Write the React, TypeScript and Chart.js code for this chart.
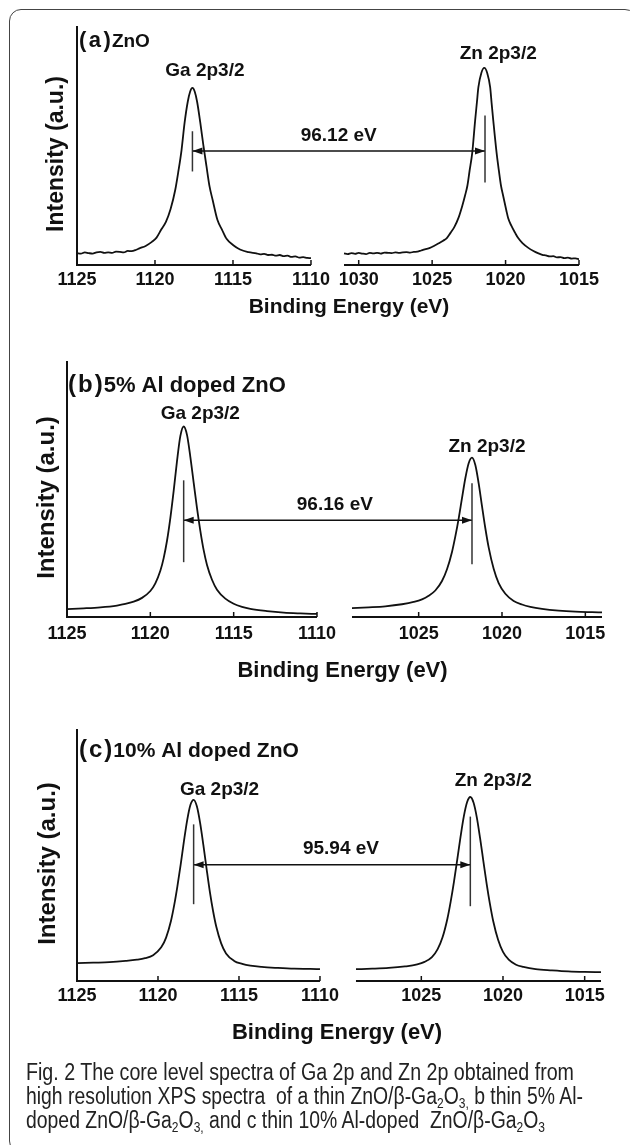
import React, { useEffect, useLayoutEffect, useRef } from "react";
import { Chart, registerables } from "chart.js";

Chart.register(...registerables);

const FONT = '"Liberation Sans", Arial, Helvetica, sans-serif';
Chart.defaults.font.family = FONT;

// ---------------- (a) ZnO ----------------
const A_GA_E = [
  1125.0, 1124.75, 1124.5, 1124.25, 1124.0, 1123.75, 1123.5, 1123.25, 1123.0, 1122.75, 1122.5, 1122.25, 1122.0, 1121.75, 1121.5,
  1121.2, 1121.0, 1120.6, 1120.2, 1119.9, 1119.6, 1119.3, 1119.0, 1118.7, 1118.5, 1118.3, 1118.1, 1117.9, 1117.75, 1117.6,
  1117.45, 1117.3, 1117.1, 1116.9, 1116.7, 1116.5, 1116.3, 1116.0, 1115.7, 1115.4, 1115.0, 1114.55, 1114.0, 1113.5,
  1113.25, 1113.0, 1112.75, 1112.5, 1112.25, 1112.0, 1111.75, 1111.5, 1111.25, 1111.0, 1110.75, 1110.5, 1110.25, 1110.0,
];
const A_GA_I = [
  5.0, 4.8, 5.3, 5.0, 4.8, 5.3, 5.5, 5.1, 5.3, 5.1, 5.6, 5.5, 5.3, 5.9, 5.8,
  6.4, 7.0, 8.0, 9.7, 11.5, 14.9, 18.1, 23.5, 31.6, 39.4, 48.2, 59.9, 68.6, 72.8, 74.4,
  72.8, 68.6, 60.0, 50.4, 41.5, 32.9, 27.2, 19.0, 14.8, 10.9, 8.4, 6.5, 5.4, 4.9,
  4.5, 4.7, 4.2, 4.3, 3.9, 4.2, 3.7, 3.9, 3.4, 3.6, 3.1, 3.3, 3.0, 2.9,
];
const A_ZN_E = [
  1031.0, 1030.75, 1030.5, 1030.25, 1030.0, 1029.75, 1029.5, 1029.25, 1029.0, 1028.75, 1028.5, 1028.25, 1028.0,
  1027.75, 1027.5, 1027.25, 1027.0, 1026.75, 1026.5, 1026.25, 1026.0,
  1025.75, 1025.5, 1025.15, 1024.85, 1024.55, 1024.25, 1024.0, 1023.75, 1023.5, 1023.2, 1022.95, 1022.75, 1022.6,
  1022.45, 1022.27, 1022.07, 1021.95, 1021.85, 1021.65, 1021.45,
  1021.25, 1021.05, 1020.95, 1020.84, 1020.61, 1020.45, 1020.31, 1020.15, 1019.95, 1019.82, 1019.6, 1019.35, 1019.14,
  1018.85, 1018.45, 1018.1, 1017.8, 1017.5,
  1017.25, 1017.0, 1016.75, 1016.5, 1016.25, 1016.0, 1015.75, 1015.5, 1015.25, 1015.0,
];
const A_ZN_I = [
  4.9, 4.6, 5.0, 4.7, 5.1, 4.8, 4.6, 5.1, 4.9, 5.1, 4.8, 5.2, 5.1,
  5.0, 5.3, 5.1, 5.3, 5.4, 5.2, 5.5, 5.6,
  6.1, 6.6, 7.2, 8.1, 9.1, 10.2, 11.3, 13.5, 15.8, 19.9, 24.8, 29.4, 33.3,
  39.6, 47.1, 60.9, 68.4, 74.7, 80.7, 82.8,
  80.7, 74.7, 68.0, 60.9, 47.1, 39.4, 33.3, 28.7, 23.0, 19.6, 16.4, 13.5, 11.3,
  9.2, 7.2, 5.9, 5.0, 4.3,
  4.0, 3.6, 3.7, 3.2, 3.3, 2.9, 3.1, 2.7, 2.8, 2.5,
];

// ---------------- (b) 5% Al doped ZnO ----------------
const B_GA_E = [
  1125, 1124, 1123, 1122, 1121.5, 1121, 1120.5, 1120, 1119.7, 1119.4,
  1119.2, 1119.0, 1118.8, 1118.6, 1118.4, 1118.2, 1118.0,
  1117.8, 1117.6, 1117.4, 1117.2, 1117.0, 1116.8, 1116.6, 1116.3, 1116.0,
  1115.5, 1115.0, 1114.5, 1114, 1113, 1112, 1111, 1110,
];
const B_GA_I = [
  3.1, 3.4, 3.8, 4.5, 5.1, 6.0, 7.5, 10.2, 13.2, 18.1,
  23.1, 29.9, 38.8, 49.5, 61.1, 70.9, 74.7,
  71.4, 62.8, 52.7, 42.7, 33.8, 26.2, 20.4, 14.6, 10.7,
  7.2, 5.2, 4.0, 3.2, 2.3, 1.7, 1.4, 1.2,
];
const B_ZN_E = [
  1029, 1028, 1027, 1026, 1025.3, 1024.8, 1024.4, 1024.0, 1023.6, 1023.3, 1023.0, 1022.8, 1022.6, 1022.4, 1022.2, 1022.0, 1021.8,
  1021.6, 1021.4, 1021.2, 1021.0, 1020.8, 1020.5, 1020.2, 1019.8, 1019.3, 1018.8, 1018.3, 1017.6, 1016.6, 1015.6, 1014.6, 1014.0,
];
const B_ZN_I = [
  3.5, 3.8, 4.2, 5.0, 5.9, 6.9, 8.3, 10.4, 14.1, 18.7, 25.5, 31.6, 38.6, 46.6, 54.4, 60.3, 62.5,
  59.6, 52.4, 43.5, 34.8, 27.3, 18.9, 13.3, 9.1, 6.3, 4.9, 4.0, 3.2, 2.5, 2.1, 1.9, 1.8,
];

// ---------------- (c) 10% Al doped ZnO ----------------
const C_GA_E = [
  1125, 1124, 1123, 1122, 1121.3, 1120.8, 1120.3, 1119.8, 1119.5, 1119.2, 1119.0, 1118.8, 1118.6, 1118.4, 1118.2, 1118.0, 1117.8,
  1117.6, 1117.4, 1117.2, 1117.0, 1116.8, 1116.6, 1116.4, 1116.1, 1115.8, 1115.3, 1114.8, 1114.3, 1113.6, 1112.6, 1111.6, 1110.6, 1110.0,
];
const C_GA_I = [
  7.1, 7.3, 7.5, 8.0, 8.5, 9.1, 10.3, 13.4, 17.3, 23.9, 30.2, 37.8, 46.4, 55.6, 64.0, 70.1, 72.2,
  69.6, 63.0, 54.2, 44.7, 35.6, 27.9, 21.6, 15.0, 11.0, 8.0, 6.8, 6.1, 5.6, 5.2, 4.9, 4.8, 4.7,
];
const C_ZN_E = [
  1029, 1028, 1027, 1026, 1025.25, 1024.8, 1024.35, 1024.0, 1023.7, 1023.4, 1023.2, 1023.0, 1022.8, 1022.6, 1022.4, 1022.2, 1022.0,
  1021.8, 1021.6, 1021.4, 1021.2, 1021.0, 1020.8, 1020.6, 1020.3, 1020.0, 1019.65, 1019.2, 1018.75, 1018.0, 1017, 1016, 1015, 1014,
];
const C_ZN_I = [
  4.7, 4.9, 5.2, 5.8, 6.6, 7.6, 9.5, 12.7, 17.4, 24.9, 31.7, 39.6, 48.4, 57.4, 65.5, 71.2, 73.3,
  71.0, 65.1, 56.8, 47.7, 38.7, 30.7, 23.9, 16.4, 11.6, 8.5, 6.5, 5.6, 4.7, 4.2, 3.8, 3.6, 3.5,
];

// ---------------- annotations (per panel a, b, c) ----------------
const PANEL_PREFIX = ["(a)", "(b)", "(c)"];
const PANEL_NAME = ["ZnO", "5% Al doped ZnO", "10% Al doped ZnO"];
const PEAK_NAMES = ["Ga 2p3/2", "Zn 2p3/2"];
const GA_MARK_E = [1117.6, 1118.0, 1117.8];
const ZN_MARK_E = [1021.4, 1021.8, 1022.0];
const GA_MARK_I = [[39.3, 56.2], [21.5, 53.6], [30.6, 62.4]];
const ZN_MARK_I = [[34.7, 62.8], [20.7, 52.5], [29.8, 65.5]];
const ARROW_I = [47.9, 37.9, 46.3];
const SPLIT_TEXT = ["96.12 eV", "96.16 eV", "95.94 eV"];
const SPLIT_TEXT_I = [52.1, 42.1, 50.6];
const GA_TEXT_E = [1116.8, 1117.0, 1116.2];
const GA_TEXT_I = [79.3, 77.8, 74.1];
const ZN_TEXT_E = [1020.5, 1020.9, 1020.6];
const ZN_TEXT_I = [86.4, 64.8, 77.6];
const GA_RANGE = [1125, 1110];
const ZN_RANGE = [[1031, 1015], [1029, 1014], [1029, 1014]];
const TICKS_A = [1125, 1120, 1115, 1110, 1030, 1025, 1020, 1015];
const TICKS_BC = [1125, 1120, 1115, 1110, 1025, 1020, 1015];
const X_TITLE = "Binding Energy (eV)";
const Y_TITLE = "Intensity (a.u.)";

const DATA = [
  { gaE: A_GA_E, gaI: A_GA_I, znE: A_ZN_E, znI: A_ZN_I, ticks: TICKS_A },
  { gaE: B_GA_E, gaI: B_GA_I, znE: B_ZN_E, znI: B_ZN_I, ticks: TICKS_BC },
  { gaE: C_GA_E, gaI: C_GA_I, znE: C_ZN_E, znI: C_ZN_I, ticks: TICKS_BC },
];

// ---------------- layout ----------------
const LAYOUT = [
  { top: 0, height: 330, pad: { left: 77, right: 51, top: 27, bottom: 35.4 }, tickPad: 4, leftFrac: 0.4661, rightStart: 0.5319,
    xTitle: { dx: 21, dy: 48, size: 21 }, yTitle: { x: 57, dy: 8, size: 23 }, tag: { dx: 2, dy: 20, big: 22, small: 19, sp: 2.5 }, splitDx: 0 },
  { top: 330, height: 370, pad: { left: 67, right: 28, top: 32, bottom: 49.4 }, tickPad: 6, leftFrac: 0.4673, rightStart: 0.5327,
    xTitle: { dx: 8, dy: 60, size: 22 }, yTitle: { x: 47, dy: 8, size: 24 }, tag: { dx: 1, dy: 30, big: 24, small: 22, sp: 2 }, splitDx: 7 },
  { top: 700, height: 360, pad: { left: 77, right: 29, top: 30, bottom: 49.4 }, tickPad: 4, leftFrac: 0.4637, rightStart: 0.5324,
    xTitle: { dx: -2, dy: 58, size: 22 }, yTitle: { x: 48, dy: 8, size: 24 }, tag: { dx: 2, dy: 27, big: 24, small: 21, sp: 2 }, splitDx: 9 },
];

const INK = "#111";

function Panel({ idx }: { idx: number }) {
  const ref = useRef<HTMLCanvasElement>(null);
  useEffect(() => {
    const L = LAYOUT[idx];
    const D = DATA[idx];
    const znR = ZN_RANGE[idx];
    // broken-axis mapping: energy -> axis fraction
    const map = (e: number) =>
      e >= 1100
        ? (L.leftFrac * (GA_RANGE[0] - e)) / (GA_RANGE[0] - GA_RANGE[1])
        : L.rightStart + ((1 - L.rightStart) * (znR[0] - e)) / (znR[0] - znR[1]);
    const pts = (E: number[], I: number[]) => E.map((e, i) => ({ x: map(e), y: I[i] }));
    const curve = (data: any) => ({
      data, borderColor: INK, borderWidth: 1.8, pointRadius: 0, fill: false, cubicInterpolationMode: "monotone",
    });
    const seg = (data: any, w: number, c: string) => ({ data, borderColor: c, borderWidth: w, pointRadius: 0, fill: false, tension: 0 });

    const datasets: any[] = [
      curve(pts(D.gaE, D.gaI)),
      curve(pts(D.znE, D.znI)),
      seg([{ x: map(GA_MARK_E[idx]), y: GA_MARK_I[idx][0] }, { x: map(GA_MARK_E[idx]), y: GA_MARK_I[idx][1] }], 1.5, "#333"),
      seg([{ x: map(ZN_MARK_E[idx]), y: ZN_MARK_I[idx][0] }, { x: map(ZN_MARK_E[idx]), y: ZN_MARK_I[idx][1] }], 1.5, "#333"),
      seg([{ x: map(GA_MARK_E[idx]), y: ARROW_I[idx] }, { x: map(ZN_MARK_E[idx]), y: ARROW_I[idx] }], 1.5, INK),
    ];

    const plugin = {
      id: "xpsDecor" + idx,
      afterDraw(chart: any) {
        const ctx = chart.ctx;
        const xs = chart.scales.x;
        const ys = chart.scales.y;
        const ca = chart.chartArea;
        const px = (e: number) => xs.getPixelForValue(map(e));
        ctx.save();
        // broken x axis line
        ctx.strokeStyle = INK;
        ctx.lineWidth = 2;
        [GA_RANGE, znR].forEach((r, k) => {
          ctx.beginPath();
          ctx.moveTo(px(r[0]) - (k === 0 ? 1 : 0), ca.bottom);
          ctx.lineTo(px(r[1]), ca.bottom);
          ctx.stroke();
        });
        // inward tick marks
        ctx.lineWidth = 1.5;
        D.ticks.forEach((t) => {
          const x = px(t);
          ctx.beginPath();
          ctx.moveTo(x, ca.bottom);
          ctx.lineTo(x, ca.bottom - 5);
          ctx.stroke();
        });
        // arrow heads
        const ay = ys.getPixelForValue(ARROW_I[idx]);
        const xl = px(GA_MARK_E[idx]);
        const xr = px(ZN_MARK_E[idx]);
        ctx.fillStyle = INK;
        ctx.beginPath();
        ctx.moveTo(xl, ay); ctx.lineTo(xl + 10, ay - 3.5); ctx.lineTo(xl + 10, ay + 3.5); ctx.closePath(); ctx.fill();
        ctx.beginPath();
        ctx.moveTo(xr, ay); ctx.lineTo(xr - 10, ay - 3.5); ctx.lineTo(xr - 10, ay + 3.5); ctx.closePath(); ctx.fill();
        // texts
        ctx.textBaseline = "alphabetic";
        ctx.textAlign = "center";
        ctx.font = `bold 19px ${FONT}`;
        ctx.fillText(PEAK_NAMES[0], px(GA_TEXT_E[idx]), ys.getPixelForValue(GA_TEXT_I[idx]));
        ctx.fillText(PEAK_NAMES[1], px(ZN_TEXT_E[idx]), ys.getPixelForValue(ZN_TEXT_I[idx]));
        ctx.fillText(SPLIT_TEXT[idx], (xl + xr) / 2 + L.splitDx, ys.getPixelForValue(SPLIT_TEXT_I[idx]));
        // x title
        ctx.font = `bold ${L.xTitle.size}px ${FONT}`;
        ctx.fillText(X_TITLE, (ca.left + ca.right) / 2 + L.xTitle.dx, ca.bottom + L.xTitle.dy);
        // panel tag
        ctx.textAlign = "left";
        ctx.font = `bold ${L.tag.big}px ${FONT}`;
        const tx = ca.left + L.tag.dx;
        const ty = ca.top + L.tag.dy;
        let cx = tx;
        for (const ch of PANEL_PREFIX[idx]) {
          ctx.fillText(ch, cx, ty);
          cx += ctx.measureText(ch).width + L.tag.sp;
        }
        ctx.font = `bold ${L.tag.small}px ${FONT}`;
        ctx.fillText(PANEL_NAME[idx], cx - L.tag.sp + 1, ty);
        // y title
        ctx.translate(L.yTitle.x, (ca.top + ca.bottom) / 2 + L.yTitle.dy);
        ctx.rotate(-Math.PI / 2);
        ctx.textAlign = "center";
        ctx.textBaseline = "middle";
        ctx.font = `bold ${L.yTitle.size}px ${FONT}`;
        ctx.fillText(Y_TITLE, 0, 0);
        ctx.restore();
      },
    };

    const chart = new Chart(ref.current as HTMLCanvasElement, {
      type: "line",
      data: { datasets },
      options: {
        animation: false,
        responsive: false,
        maintainAspectRatio: false,
        devicePixelRatio: 1,
        events: [],
        layout: { padding: L.pad },
        plugins: { legend: { display: false }, tooltip: { enabled: false } },
        scales: {
          x: {
            type: "linear",
            min: 0,
            max: 1,
            grid: { display: false, drawTicks: false, tickLength: 0 },
            border: { display: false },
            afterBuildTicks: (s: any) => {
              s.ticks = D.ticks.map((t) => ({ value: map(t) }));
            },
            ticks: {
              autoSkip: false,
              maxRotation: 0,
              padding: L.tickPad,
              color: INK,
              font: { family: FONT, size: 18, weight: "bold" },
              callback: (_v: any, i: number) => String(D.ticks[i]),
            },
          },
          y: {
            type: "linear",
            min: 0,
            max: 100,
            grid: { display: false, drawTicks: false, tickLength: 0 },
            ticks: { display: false },
            border: { display: true, color: INK, width: 2 },
          },
        },
      } as any,
      plugins: [plugin],
    });
    return () => chart.destroy();
  }, [idx]);
  const L = LAYOUT[idx];
  return (
    <canvas
      ref={ref}
      width={630}
      height={L.height}
      style={{ position: "absolute", left: 0, top: L.top, width: 630, height: L.height, display: "block" }}
    />
  );
}

const CAPTION_WIDTHS = [548, 557, 519];
const CAPTION_BASELINES = [1080, 1104, 1128];

function Caption() {
  const refs = useRef<(HTMLSpanElement | null)[]>([]);
  useLayoutEffect(() => {
    refs.current.forEach((el, i) => {
      if (!el) return;
      el.style.transform = "none";
      const w = el.getBoundingClientRect().width;
      if (w > 0) el.style.transform = `scaleX(${CAPTION_WIDTHS[i] / w})`;
    });
  }, []);
  const sub = (t: string) => <sub style={{ fontSize: "0.62em", verticalAlign: "-0.28em", lineHeight: 0 }}>{t}</sub>;
  const lines = [
    <>Fig. 2 The core level spectra of Ga 2p and Zn 2p obtained from</>,
    <>high resolution XPS spectra  of a thin ZnO/β-Ga{sub("2")}O{sub("3,")} b thin 5% Al-</>,
    <>doped ZnO/β-Ga{sub("2")}O{sub("3,")} and c thin 10% Al-doped  ZnO/β-Ga{sub("2")}O{sub("3")}</>,
  ];
  return (
    <>
      {lines.map((ln, i) => (
        <div
          key={i}
          style={{
            position: "absolute", left: 26, top: CAPTION_BASELINES[i] - 19.5, whiteSpace: "pre",
            fontFamily: FONT, fontSize: 23, lineHeight: "23px", color: "#222",
          }}
        >
          <span ref={(el) => { refs.current[i] = el; }} style={{ display: "inline-block", transformOrigin: "0 0" }}>
            {ln}
          </span>
        </div>
      ))}
    </>
  );
}

export default function App() {
  return (
    <div style={{ position: "absolute", left: 0, top: 0, width: 630, height: 1145, overflow: "hidden", background: "#fff" }}>
      <div
        style={{
          position: "absolute", left: 9, top: 9, width: 628, height: 1144, boxSizing: "border-box",
          border: "1.5px solid #444", borderRadius: 12,
        }}
      />
      <Panel idx={0} />
      <Panel idx={1} />
      <Panel idx={2} />
      <Caption />
    </div>
  );
}
